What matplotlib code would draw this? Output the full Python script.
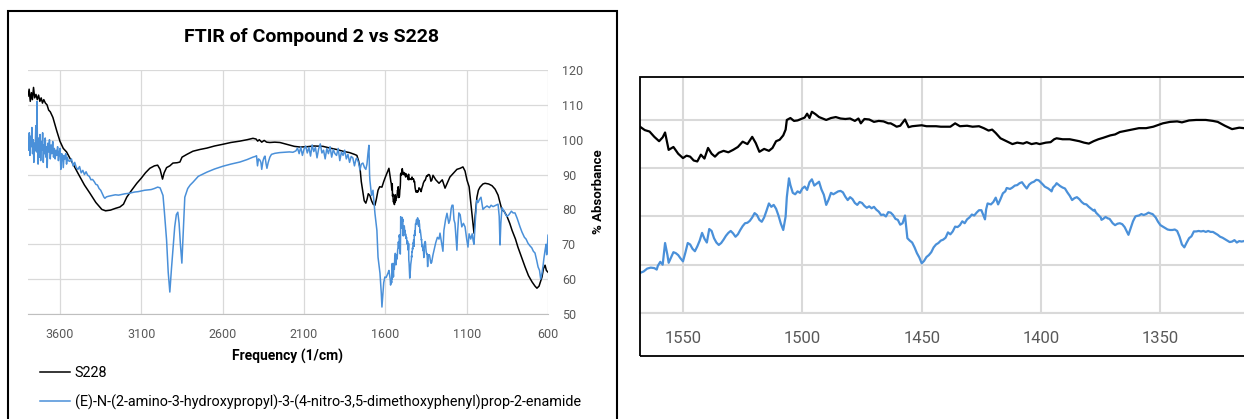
import matplotlib
matplotlib.use("Agg")
import matplotlib.pyplot as plt
from matplotlib.patches import Rectangle

plt.rcParams['font.family'] = ['Roboto', 'DejaVu Sans']

# S228 (black) - wavenumber (1/cm) and % absorbance
s228_wn = [
    3797, 3790, 3783, 3776, 3770, 3763, 3756, 3748, 3740, 3732, 3724, 3716, 3708, 3700,
    3690, 3680, 3670, 3660, 3650, 3644, 3620, 3600, 3580, 3560, 3520, 3490, 3450, 3417,
    3380, 3343, 3320, 3290, 3260, 3232, 3210, 3190, 3160, 3128, 3100, 3075, 3048, 3020,
    3000, 2985, 2970, 2960, 2945, 2925, 2906, 2880, 2863, 2850, 2820, 2783, 2740, 2697,
    2650, 2598, 2550, 2494, 2450, 2414, 2395, 2385, 2375, 2360, 2345, 2330, 2310, 2280,
    2248, 2200, 2160, 2125, 2080, 2040, 1984, 1940, 1900, 1861, 1820, 1790, 1775, 1765,
    1756, 1748, 1740, 1730, 1720, 1712, 1705, 1695, 1685, 1675, 1664, 1655, 1645, 1635,
    1621, 1610, 1598, 1585, 1578, 1572,
    1568, 1566, 1564, 1562, 1560, 1558.5, 1557.5, 1556, 1554, 1552, 1550, 1548.5, 1547,
    1545.5, 1544, 1542.5, 1541, 1539.5, 1538, 1536.6, 1535, 1533, 1531, 1529, 1527, 1525,
    1523, 1521, 1519.5, 1518, 1516, 1514, 1512.5, 1511, 1509.5, 1508, 1507, 1506.5, 1505,
    1503.5, 1502, 1500.5, 1499, 1498, 1497, 1496, 1494.5, 1493, 1491.5, 1490, 1488, 1486,
    1484, 1482, 1480, 1478, 1476.5, 1475.5, 1474, 1472, 1470, 1468, 1466, 1464, 1463,
    1461.5, 1460.5, 1459, 1457, 1455.5, 1454, 1452, 1450, 1448, 1446.5, 1444, 1442, 1440,
    1438, 1436, 1434, 1431, 1428.7, 1426, 1424, 1422, 1420.5, 1419, 1417, 1414.5, 1412,
    1410, 1407.5, 1406, 1404, 1402, 1400.6, 1398, 1396, 1394.5, 1393.5, 1391, 1388, 1386,
    1384, 1382, 1380, 1378, 1376, 1374, 1371, 1369, 1367, 1364, 1362, 1359, 1356, 1353,
    1349, 1346, 1343, 1341, 1338, 1335, 1331, 1328, 1326, 1323, 1320, 1317, 1315,
    1307, 1290, 1270, 1250, 1233, 1215, 1203, 1180, 1160, 1140, 1123, 1110, 1098, 1085,
    1075, 1068, 1060, 1055, 1048, 1037, 1028, 1018, 1000, 987, 965, 944, 925, 907, 895,
    883, 870, 852, 835, 821, 800, 785, 760, 741, 720, 698, 680, 668, 655, 645, 637, 628,
    618, 610, 600,
]
s228_abs = [
    112.5, 114.5, 111.0, 113.5, 111.5, 115.0, 112.0, 113.0, 111.5, 112.8, 111.0, 112.0, 110.5, 111.5,
    110.5, 110.0, 108.5, 108.0, 107.0, 106.4, 102.5, 99.5, 97.5, 96.5, 93.0, 90.4, 87.0, 84.7,
    82.0, 80.0, 79.6, 79.8, 80.3, 80.7, 81.5, 83.5, 85.5, 87.5, 89.0, 90.5, 91.8, 92.5,
    92.7, 91.5, 88.7, 90.5, 92.0, 92.5, 93.3, 93.4, 93.6, 95.0, 95.8, 96.7, 97.2, 97.6,
    98.2, 98.7, 99.2, 99.6, 100.0, 100.4, 100.2, 99.6, 100.0, 99.3, 99.8, 99.3, 99.2, 99.3,
    99.2, 98.6, 98.1, 97.9, 98.0, 98.2, 98.1, 97.6, 97.2, 96.7, 96.3, 95.8, 95.5, 94.0,
    92.0, 88.0, 85.5, 82.5, 81.8, 83.0, 84.5, 84.0, 82.5, 81.5, 81.2, 83.0, 85.5, 86.5,
    86.4, 88.0, 89.5, 91.0, 91.8, 90.0,
    88.6, 87.9, 87.6, 86.5, 85.6, 86.4, 87.4, 83.8, 84.4, 83.0, 82.1, 82.6, 82.4,
    81.6, 81.4, 82.8, 82.0, 84.2, 83.0, 82.4, 83.2, 83.6, 83.3, 83.8, 84.4, 85.5,
    85.0, 86.5, 85.2, 83.4, 84.0, 83.6, 84.2, 85.6, 85.9, 86.8, 88.0, 90.0, 90.4,
    89.8, 89.9, 90.2, 90.5, 91.3, 90.4, 91.7, 91.2, 90.6, 90.3, 90.0, 90.4, 90.6,
    90.3, 90.2, 90.3, 89.8, 90.3, 89.3, 90.2, 90.1, 89.6, 89.8, 89.7, 89.3, 89.3,
    88.9, 88.6, 88.8, 90.1, 88.5, 88.7, 88.8, 88.9, 88.7, 88.7, 88.7, 88.6, 88.6,
    88.6, 89.3, 88.7, 88.8, 88.6, 88.7, 88.3, 87.8, 88.0, 87.3, 86.2, 85.6, 85.0,
    85.3, 85.1, 85.4, 85.0, 85.2, 85.0, 85.3, 85.4, 86.0, 86.2, 86.0, 86.0, 85.8,
    85.6, 85.3, 85.1, 85.6, 86.0, 86.3, 86.8, 87.0, 87.5, 87.8, 88.0, 88.3, 88.3, 88.6,
    89.3, 89.6, 89.7, 89.5, 89.9, 90.0, 90.0, 89.8, 89.6, 88.8, 88.1, 88.4, 88.3,
    89.8, 88.5, 87.5, 88.5, 86.1, 88.0, 89.3, 90.5, 91.5, 91.8, 92.2, 91.0, 88.4, 86.5,
    82.0, 79.0, 75.0, 73.2, 78.0, 83.5, 85.5, 86.4, 87.3, 87.5, 87.3, 86.8, 85.8, 84.1, 82.0,
    79.8, 79.5, 78.0, 76.0, 74.0, 71.5, 69.2, 66.0, 63.5, 61.0, 59.2, 58.0, 57.4, 58.0, 59.5, 60.6, 63.0,
    64.0, 62.5, 62.0,
]

# compound 2 (blue)
cmpd_wn = [
    3797, 3793, 3789, 3785, 3781, 3777, 3773, 3769, 3765, 3761, 3757, 3753, 3749, 3745,
    3742, 3739, 3735, 3731, 3727, 3723, 3719, 3715, 3711, 3707, 3703, 3699, 3695, 3691,
    3687, 3683, 3679, 3675, 3670, 3665, 3660, 3655, 3650, 3645, 3640, 3635, 3630, 3625,
    3620, 3615, 3610, 3605, 3600, 3595, 3590, 3585, 3580, 3575, 3570, 3565, 3560, 3555,
    3550, 3540, 3530, 3520, 3510, 3500, 3490, 3480, 3470, 3460, 3450, 3440, 3430, 3420,
    3410, 3400, 3390, 3380, 3370, 3360, 3350, 3340, 3330, 3324, 3315, 3300, 3280, 3260,
    3240, 3220, 3200, 3180, 3160, 3140, 3120, 3100, 3080, 3060, 3040, 3020, 3000, 2985,
    2975, 2967, 2958, 2950, 2945, 2935, 2925, 2915, 2905, 2895, 2885, 2876, 2868, 2860,
    2851, 2842, 2833, 2815, 2800, 2783, 2750, 2697, 2650, 2598, 2550, 2494, 2450, 2414,
    2400, 2392, 2386, 2380, 2372, 2365, 2360, 2352, 2345, 2340, 2333, 2328, 2320, 2310,
    2300, 2279, 2250, 2220, 2190, 2168, 2150, 2140, 2130, 2120, 2110, 2100, 2090, 2080,
    2070, 2060, 2050, 2040, 2030, 2020, 2010, 2000, 1990, 1980, 1970, 1960, 1950, 1940,
    1930, 1920, 1910, 1900, 1890, 1880, 1870, 1860, 1850, 1840, 1830, 1820, 1810, 1800,
    1790, 1780, 1775, 1765, 1756, 1748, 1738, 1728, 1720, 1713, 1707, 1701, 1697, 1695,
    1685, 1676, 1664, 1652, 1645, 1633, 1625, 1621, 1615, 1610, 1603, 1595, 1584, 1578,
    1570,
    1568, 1566.5, 1565, 1563.5, 1562, 1561, 1560.5, 1559.5, 1558.5, 1557.5, 1556.5, 1556,
    1555, 1554, 1553, 1552, 1551, 1550, 1549, 1548, 1547, 1546, 1545, 1544, 1543, 1542,
    1541, 1540, 1539, 1538, 1537, 1536, 1535, 1534, 1533, 1532, 1531, 1530, 1529, 1528,
    1527, 1526, 1525, 1524, 1523, 1522, 1521, 1520, 1519, 1518, 1517, 1516, 1515, 1514,
    1513, 1512, 1511, 1510, 1509, 1508, 1507, 1506.5, 1505.6, 1505, 1504, 1503, 1502, 1501,
    1500, 1499, 1498, 1497, 1496, 1495, 1494, 1493, 1492, 1491, 1490, 1489, 1488, 1487,
    1486, 1485, 1484, 1483, 1482, 1481, 1480, 1479, 1478, 1477, 1476, 1475, 1474, 1473,
    1472, 1471, 1470, 1469, 1468, 1467, 1466, 1465, 1464, 1463, 1462, 1461, 1460, 1459,
    1458, 1457, 1456, 1455, 1454, 1453, 1452, 1451, 1450, 1449, 1448, 1447, 1446, 1445,
    1444, 1443, 1442, 1441, 1440, 1439, 1438, 1437, 1436, 1435, 1434, 1433, 1432, 1431,
    1430, 1429, 1428, 1427, 1426, 1425, 1424, 1423.5, 1423, 1422.4, 1421, 1420, 1419, 1418,
    1417, 1416, 1415, 1414.4, 1413, 1412, 1411, 1410, 1409, 1408, 1407, 1406, 1405, 1404,
    1403, 1402, 1401, 1400, 1399, 1398.5, 1397, 1396, 1395.6, 1395, 1394, 1393.5, 1392, 1391,
    1390, 1389, 1388, 1387, 1386, 1385, 1384, 1383, 1382, 1381, 1380, 1379, 1378, 1377.6,
    1377, 1376, 1375, 1374.7, 1374, 1373, 1372, 1371.3, 1370, 1369, 1368, 1367, 1366, 1365,
    1364, 1363.4, 1362.5, 1361.5, 1360.5, 1360, 1359, 1358, 1357, 1356, 1355, 1354, 1353.3, 1352,
    1351, 1350, 1349, 1348, 1347, 1346, 1345, 1344, 1343, 1342, 1341, 1340, 1339, 1338,
    1337, 1336, 1335, 1334, 1333, 1332, 1331, 1330, 1329, 1328, 1327, 1326, 1325, 1324,
    1323, 1322, 1321, 1320, 1319, 1318, 1317, 1316, 1315,
    1307, 1300, 1290, 1280, 1270, 1264, 1255, 1246, 1240, 1230, 1221, 1210, 1203, 1195,
    1190, 1184, 1178, 1172, 1166, 1160, 1155, 1148, 1140, 1130, 1120, 1110, 1100, 1092,
    1085, 1075, 1066, 1060, 1055, 1048, 1040, 1037, 1030, 1020, 1012, 1005, 1000, 990,
    975, 960, 950, 938, 920, 907, 900, 895, 890, 883, 870, 860, 852, 840, 825, 815, 803,
    790, 772, 760, 745, 735, 723, 710, 700, 690, 680, 670, 661, 652, 645, 637, 630, 625,
    618, 612, 608, 604, 600,
]
cmpd_abs = [
    100.5, 97.0, 102.0, 95.5, 101.0, 98.0, 103.5, 96.0, 100.0, 93.5, 99.0, 97.0, 104.0, 96.5,
    111.0, 99.0, 93.0, 100.5, 95.0, 101.5, 94.0, 99.5, 97.0, 102.0, 93.5, 98.5, 96.0, 100.5,
    95.0, 98.0, 92.0, 99.0, 96.5, 100.0, 94.5, 98.5, 96.0, 99.5, 95.0, 97.5, 94.5, 97.0,
    95.5, 98.0, 94.0, 96.5, 97.5, 91.5, 96.0, 95.5, 92.0, 95.5, 94.5, 96.0, 93.0, 95.0,
    94.0, 93.8, 94.5, 92.5, 93.5, 92.0, 91.5, 92.3, 90.5, 91.2, 90.0, 90.8, 89.8, 89.5,
    88.5, 88.6, 88.0, 87.2, 87.0, 86.0, 85.5, 84.5, 83.5, 83.2, 83.6, 83.8, 84.0, 84.2,
    84.1, 84.3, 84.5, 84.6, 84.8, 85.0, 85.1, 85.3, 85.5, 85.6, 85.7, 86.0, 86.4, 86.2,
    85.0, 84.0, 79.0, 74.0, 71.2, 62.0, 56.3, 63.0, 69.2, 75.0, 78.5, 79.2, 76.0, 70.0,
    64.6, 74.0, 83.5, 86.0, 87.0, 87.8, 89.5, 90.7, 91.6, 92.4, 93.0, 93.6, 94.3, 95.0,
    95.2, 95.4, 92.5, 94.5, 94.2, 93.5, 91.5, 94.0, 95.0, 95.3, 93.0, 91.8, 93.5, 95.0,
    95.8, 96.1, 96.3, 96.4, 96.5, 96.4, 96.8, 97.6, 96.0, 97.9, 95.5, 97.3, 98.2, 96.2,
    97.8, 95.3, 98.5, 96.6, 97.8, 94.8, 97.4, 98.8, 96.2, 97.0, 94.5, 97.5, 96.0, 98.0,
    95.0, 97.2, 96.0, 95.5, 97.5, 94.0, 96.5, 95.5, 97.0, 94.5, 95.8, 93.5, 95.2, 94.8,
    92.5, 94.5, 94.7, 93.5, 91.3, 93.0, 93.3, 92.0, 91.5, 93.0, 96.0, 98.4, 90.0, 88.4,
    84.0, 85.5, 78.9, 74.0, 66.3, 61.7, 56.0, 52.0, 56.0, 59.0, 60.6, 60.5, 61.7, 62.5,
    60.0,
    58.3, 58.6, 59.2, 59.4, 59.3, 59.0, 59.8, 60.6, 60.0, 64.5, 62.0, 60.4,
    61.5, 62.6, 62.4, 62.0, 61.3, 60.7, 62.5, 64.5, 64.2, 63.3, 62.8, 63.8, 65.0, 66.6,
    65.4, 64.6, 67.4, 67.0, 65.5, 64.6, 64.1, 64.5, 65.2, 66.0, 66.6, 67.0, 66.5, 65.8,
    66.3, 67.2, 68.0, 68.6, 68.7, 69.1, 69.8, 70.7, 70.3, 69.3, 68.9, 69.8, 71.2, 72.7,
    72.0, 72.4, 71.6, 70.2, 68.5, 67.2, 70.0, 74.0, 77.9, 76.5, 74.9, 74.6, 75.2, 74.9,
    75.8, 76.2, 75.5, 77.1, 77.7, 76.4, 76.8, 77.2, 75.6, 74.5, 72.4, 73.5, 74.9, 74.6,
    74.9, 75.2, 75.3, 75.0, 74.1, 73.4, 74.0, 73.6, 72.8, 72.4, 73.0, 72.8, 72.2, 71.8,
    72.1, 71.7, 72.0, 71.4, 71.0, 70.3, 70.4, 70.0, 70.9, 70.8, 70.3, 69.5, 69.3, 68.3,
    68.6, 70.2, 65.5, 65.0, 64.6, 63.6, 62.4, 61.5, 60.3, 60.8, 61.6, 62.0, 62.6, 63.6,
    64.2, 64.5, 65.0, 65.2, 65.6, 66.7, 66.3, 66.9, 67.9, 67.8, 68.2, 69.0, 68.6, 69.4,
    69.8, 70.4, 70.2, 70.8, 71.3, 71.3, 70.0, 69.4, 71.5, 72.7, 72.5, 73.0, 73.9, 72.5,
    73.6, 74.8, 75.2, 75.9, 75.7, 76.0, 76.4, 76.5, 76.9, 77.1, 76.4, 75.8, 76.6, 77.0,
    77.2, 77.6, 77.5, 77.0, 76.5, 76.2, 75.8, 75.4, 75.2, 76.0, 76.5, 76.9, 76.3, 76.0,
    75.8, 75.0, 74.3, 73.4, 73.8, 74.0, 73.6, 73.0, 72.6, 72.5, 72.0, 71.6, 71.2, 71.4,
    70.8, 70.3, 69.8, 69.3, 69.5, 69.9, 69.6, 69.5, 68.6, 68.2, 68.5, 68.6, 68.4, 67.8,
    66.8, 66.2, 67.5, 69.0, 70.0, 70.1, 70.2, 70.5, 70.3, 70.5, 70.8, 70.6, 70.5, 69.8,
    68.9, 68.2, 67.9, 67.6, 67.3, 67.2, 67.2, 67.3, 67.0, 65.8, 64.2, 63.6, 64.6, 65.5,
    65.9, 66.9, 66.9, 67.0, 66.9, 67.0, 66.8, 67.0, 66.8, 66.8, 66.5, 66.2, 65.8, 65.6,
    65.3, 65.0, 64.7, 64.8, 65.1, 64.6, 64.9, 64.8, 64.9,
    67.0, 68.5, 70.5, 72.0, 71.5, 73.2, 70.5, 68.0, 74.0, 77.0, 78.9, 76.0, 77.0, 80.3,
    81.2, 81.2, 77.0, 76.0, 72.0, 68.3, 74.0, 79.0, 78.5, 75.0, 76.0, 75.0, 71.5, 69.2,
    73.0, 71.5, 73.0, 71.0, 70.0, 76.0, 81.5, 82.6, 82.0, 83.0, 83.5, 81.5, 80.0, 80.5,
    81.0, 80.5, 81.2, 80.8, 81.2, 81.5, 78.0, 69.8, 76.0, 80.5, 79.5, 78.5, 78.0, 78.5, 79.5, 79.0, 79.0,
    77.5, 75.0, 73.5, 72.0, 71.5, 70.3, 69.5, 69.0, 68.0, 67.5, 65.5, 63.5, 62.5, 60.0, 61.7, 64.0, 66.0,
    68.3, 70.0, 67.0, 69.0, 72.6,
]

x_ticks_main = [3600, 3100, 2600, 2100, 1600, 1100, 600]
y_ticks_main = [50, 60, 70, 80, 90, 100, 110, 120]
x_ticks_zoom = [1550, 1500, 1450, 1400, 1350]
y_ticks_zoom = [50, 60, 70, 80, 90]

BLUE = '#4a90d9'
GRID = '#d9d9d9'
TICK = '#595959'

W, H = 1244, 419
fig = plt.figure(figsize=(W / 100, H / 100), dpi=100)

# --- main chart ---
ax = fig.add_axes([28 / W, (H - 314) / H, 520 / W, 244 / H])
ax.plot(s228_wn, s228_abs, color='black', lw=1.1, label='S228')
ax.plot(cmpd_wn, cmpd_abs, color=BLUE, lw=1.1,
        label='(E)-N-(2-amino-3-hydroxypropyl)-3-(4-nitro-3,5-dimethoxyphenyl)prop-2-enamide')
ax.set_xlim(3797, 600)
ax.set_ylim(50, 120)
ax.set_xticks(x_ticks_main)
ax.set_yticks(y_ticks_main)
ax.grid(True, color=GRID, lw=0.9)
ax.set_axisbelow(True)
for s in ['top', 'left', 'right']:
    ax.spines[s].set_visible(False)
ax.spines['bottom'].set_color('#bfbfbf')
ax.yaxis.tick_right()
ax.tick_params(length=0, labelsize=9, labelcolor=TICK)
ax.tick_params(axis='x', pad=10)
ax.tick_params(axis='y', pad=10)

fig.text(311 / W, 1 - 37 / H, 'FTIR of Compound 2 vs S228', ha='center', va='center',
         fontsize=14, fontweight='bold')
fig.text(288 / W, 1 - 356 / H, 'Frequency (1/cm)', ha='center', va='center',
         fontsize=10, fontweight='bold')
fig.text(598 / W, 1 - 192 / H, '% Absorbance', ha='center', va='center', rotation=90,
         fontsize=9.5, fontweight='bold')

ax.legend(loc='upper left', bbox_to_anchor=(40 / W, 1 - 366 / H), bbox_transform=fig.transFigure,
          frameon=False, fontsize=10.4, handlelength=2.1, handletextpad=0.3, labelspacing=1.0,
          borderpad=0, borderaxespad=0)

fig.add_artist(Rectangle((8 / W, -0.05), (617 - 8) / W, (H - 11) / H + 0.05,
                         transform=fig.transFigure, fill=False, edgecolor='black', lw=1.5))

# --- zoomed view ---
az = fig.add_axes([640 / W, (H - 313) / H, (W - 640) / W, (313 - 77) / H])
az.plot(s228_wn, s228_abs, color='black', lw=1.6)
az.plot(cmpd_wn, cmpd_abs, color=BLUE, lw=1.6)
az.set_xlim(1568, 1315)
az.set_ylim(50, 98.9)
az.set_xticks(x_ticks_zoom)
az.set_yticks(y_ticks_zoom)
az.set_yticklabels([])
az.grid(True, color=GRID, lw=1.5)
az.set_axisbelow(True)
for s in ['top', 'left', 'right']:
    az.spines[s].set_visible(False)
az.spines['bottom'].set_color(GRID)
az.spines['bottom'].set_linewidth(1.5)
az.tick_params(length=0, labelsize=12, labelcolor=TICK)
az.tick_params(axis='x', pad=13)

fig.add_artist(Rectangle((640 / W, (H - 356) / H), (W - 640) / W + 0.05, (356 - 77) / H,
                         transform=fig.transFigure, fill=False, edgecolor='black', lw=1.3))

fig.savefig('out.png', dpi=100)
